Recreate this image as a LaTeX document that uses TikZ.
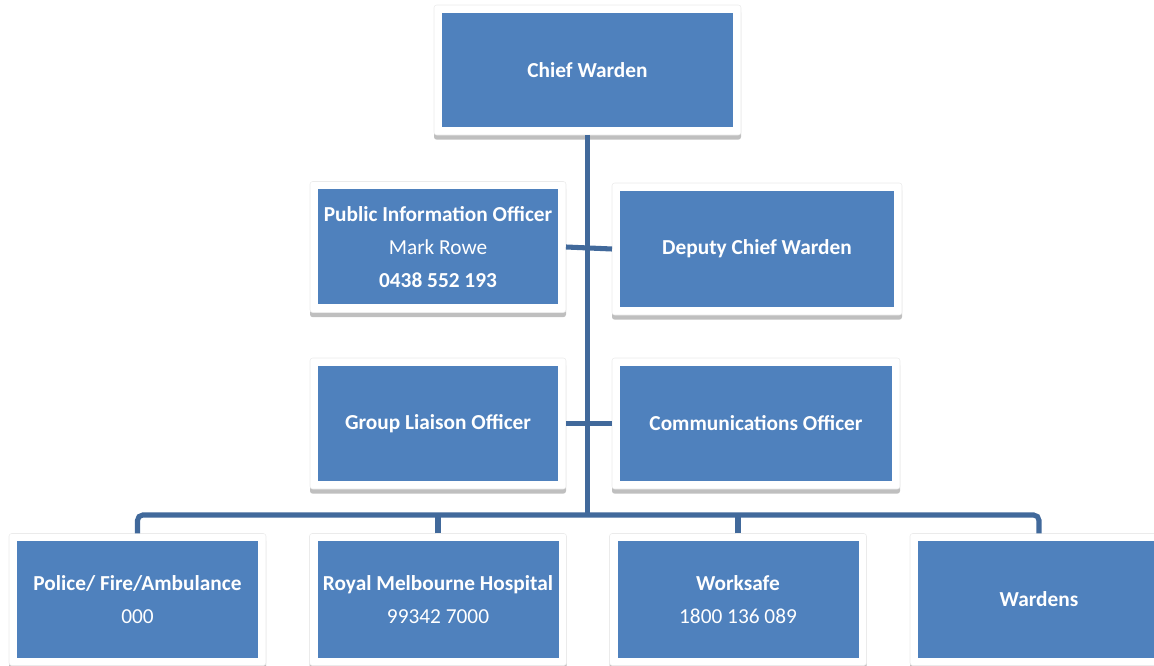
\documentclass[tikz,border=0pt]{standalone}
\usepackage{fontspec}
\setmainfont{Carlito}
\usetikzlibrary{shadows}
\definecolor{boxblue}{HTML}{4F81BD}
\definecolor{linkblue}{HTML}{41699B}
\tikzset{
  orgbox/.style={rectangle, rounded corners=2pt, fill=white, draw=black!8, line width=0.4pt,
    text=white, align=center, inner sep=0pt, outer sep=0pt,
    font=\fontsize{16}{24.5}\selectfont,
    path picture={\fill [boxblue, sharp corners]
      ([shift={(6pt,6pt)}]path picture bounding box.south west) rectangle
      ([shift={(-6pt,-6pt)}]path picture bounding box.north east);},
    drop shadow={shadow xshift=0pt, shadow yshift=-3.5pt, fill=black, opacity=0.25}},
  link/.style={draw=linkblue, line width=3.8pt}
}
\begin{document}
\begin{tikzpicture}[x=0.75pt,y=-0.75pt]
  \useasboundingbox (0,0) rectangle (1154,666);
  \clip (0,0) rectangle (1154,666);

  % Drawing the bus line
  \coordinate (bus) at (588,515);

  % Drawing the boxes
  \node [orgbox, minimum width=307*0.75pt, minimum height=130*0.75pt] (chief) at (587.5,70) {\textbf{Chief Warden}};
  \node [orgbox, minimum width=256*0.75pt, minimum height=131*0.75pt] (pio) at (438,247) {\textbf{Public Information Officer}\\Mark Rowe\\\textbf{0438 552 193}};
  \node [orgbox, minimum width=290*0.75pt, minimum height=132*0.75pt] (deputy) at (757,249) {\textbf{Deputy Chief Warden}};
  \node [orgbox, minimum width=256*0.75pt, minimum height=131*0.75pt] (group) at (438,423.5) {\textbf{Group Liaison Officer}};
  \node [orgbox, minimum width=288*0.75pt, minimum height=131*0.75pt] (comm) at (756,423.5) {\textbf{Communications Officer}};
  \node [orgbox, minimum width=257*0.75pt, minimum height=132*0.75pt] (police) at (137.5,599.5) {\textbf{Police/ Fire/Ambulance}\\000};
  \node [orgbox, minimum width=257*0.75pt, minimum height=132*0.75pt] (royal) at (438,599.5) {\textbf{Royal Melbourne Hospital}\\99342 7000};
  \node [orgbox, minimum width=257*0.75pt, minimum height=132*0.75pt] (worksafe) at (738,599.5) {\textbf{Worksafe}\\1800 136 089};
  \node [orgbox, minimum width=258*0.75pt, minimum height=132*0.75pt] (wardens) at (1039,599.5) {\textbf{Wardens}};

  % Drawing the links
  \draw [link] (chief.south) -- (chief.south |- bus);
  \draw [link] (pio.east) -- (deputy.west);
  \draw [link] (group.east) -- (comm.west);
  \draw [link, rounded corners=4pt] (police.north) -- (police.north |- bus) -- (wardens.north |- bus) -- (wardens.north);
  \draw [link] (royal.north) -- (royal.north |- bus);
  \draw [link] (worksafe.north) -- (worksafe.north |- bus);
\end{tikzpicture}
\end{document}
